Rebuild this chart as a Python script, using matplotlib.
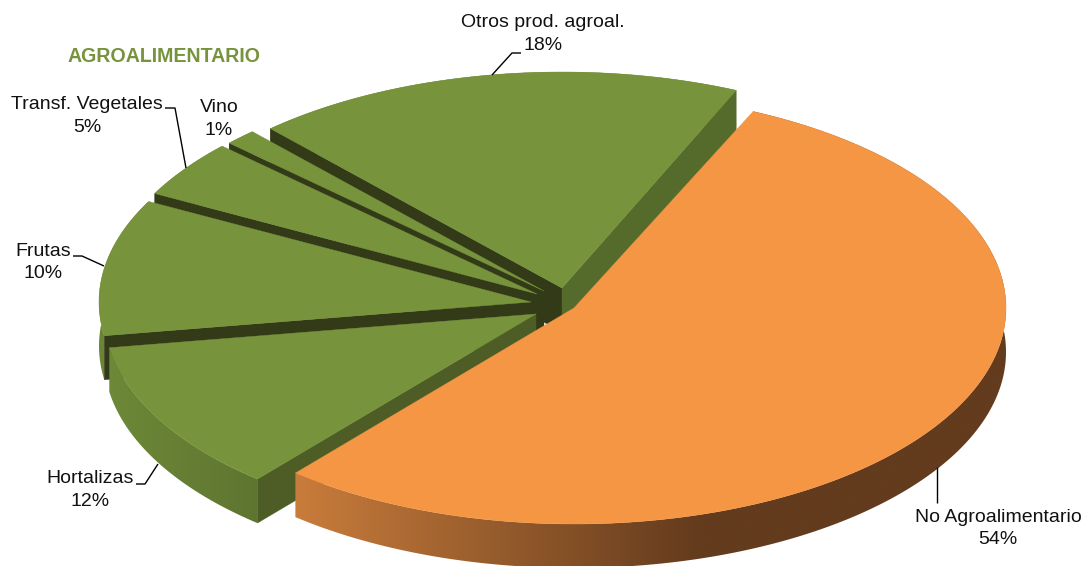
#!/usr/bin/env python3
"""Exploded 3D-looking pie of agrifood / non agrifood shares."""

import numpy as np
import matplotlib
matplotlib.use("Agg")
import matplotlib.pyplot as plt
from matplotlib.colors import to_rgb
from matplotlib.patches import Polygon

categories = ["No Agroalimentario", "Hortalizas", "Frutas", "Transf. Vegetales", "Vino", "Otros prod. agroal."]
# slice sizes as measured on the picture, printed percentages as written on it
shares = [54.35, 11.35, 10.2, 4.3, 1.2, 18.4]
percent_labels = [54, 12, 10, 5, 1, 18]

plt.rcParams["font.family"] = ["Liberation Sans", "DejaVu Sans"]

# projected ellipse and extrusion, in pixels
RX, RY = 432, 216
DEPTH = 44
START = 24.5

GREEN = "#77933C"
DARK = "#333A18"

# apex of every exploded slice
apex = [(574, 308), (536, 314), (531, 302), (537, 294), (544, 291), (562, 288)]
top_colors = ["#F59645", GREEN, GREEN, GREEN, GREEN, GREEN]
rim_stops = [
    [(295, "#C97C3B"), (700, "#633B1D"), (1010, "#633B1D")],
    [(105, "#6E8938"), (257, "#5E7530")],
    [(95, "#6B8534"), (160, "#6B8534")],
    [(150, "#67812F"), (240, "#67812F")],
    [(225, "#67812F"), (260, "#67812F")],
    [(270, "#67812F"), (740, "#67812F")],
]
# visible straight wall of a slice: (which edge, colour)
walls = [
    [],
    [("start", "#4D5D25")],
    [("start", DARK)],
    [("start", DARK)],
    [("start", DARK)],
    [("start", DARK), ("end", "#556B2C")],
]


def arc_points(center, a0, a1, n=200):
    t = np.radians(np.linspace(a0, a1, n))
    return np.column_stack([center[0] + RX * np.sin(t), center[1] - RY * np.cos(t)])


def gradient_row(x, stops):
    xs = [s[0] for s in stops]
    cols = np.array([to_rgb(s[1]) for s in stops])
    return np.column_stack([np.interp(x, xs, cols[:, i]) for i in range(3)])[np.newaxis, :, :]


def draw_slice(ax, idx, a0, a1, z):
    center = apex[idx]
    arc = arc_points(center, a0, a1, 260)
    low = arc + [0, DEPTH]

    # outer rim, filled with a horizontal gradient
    rim = Polygon(np.vstack([arc, low[::-1]]), closed=True, fc="none", ec="none", zorder=z)
    ax.add_patch(rim)
    x0, x1 = arc[:, 0].min(), arc[:, 0].max()
    y0, y1 = arc[:, 1].min(), low[:, 1].max()
    grad = gradient_row(np.linspace(x0, x1, 256), rim_stops[idx])
    im = ax.imshow(grad, extent=(x0, x1, y1, y0), aspect="auto", interpolation="bilinear", zorder=z)
    im.set_clip_path(rim)

    # straight walls
    for edge, col in walls[idx]:
        p = arc[-1] if edge == "end" else arc[0]
        quad = [center, p, p + [0, DEPTH], (center[0], center[1] + DEPTH)]
        ax.add_patch(Polygon(quad, closed=True, fc=col, ec=col, lw=0.3, zorder=z + 0.1))

    top = np.vstack([[center], arc])
    ax.add_patch(Polygon(top, closed=True, fc=top_colors[idx], ec=top_colors[idx], lw=0.3, zorder=z + 0.2))


fig = plt.figure(figsize=(10.84, 5.66), dpi=100)
ax = fig.add_axes([0, 0, 1, 1])
ax.set_axis_off()

edges = START + np.concatenate([[0], np.cumsum(shares)]) * 3.6

# back slices first, orange last
for z, idx in enumerate([5, 4, 3, 2, 1, 0]):
    draw_slice(ax, idx, edges[idx], edges[idx + 1], z + 1)

ax.set_xlim(0, 1084)
ax.set_ylim(566, 0)

# leader lines
leaders = [
    [(937, 467), (937, 503)],
    [(136, 484), (145, 484), (158, 464)],
    [(73, 256), (82, 256), (104, 266)],
    [(165, 108), (175, 108), (186, 168)],
    [(492, 75), (512, 53), (521, 53)],
]
for pts in leaders:
    xs, ys = zip(*pts)
    ax.plot(xs, ys, color="black", lw=1.0, solid_capstyle="butt", zorder=10)

# labels
label_pos = [(998, 528.5), (90, 490), (43, 262.5), (87, 116), (219, 119), (543, 34)]
for name, pct, (x, y) in zip(categories, percent_labels, label_pos):
    ax.text(x, y, f"{name}\n{pct}%", ha="center", va="center",
            fontsize=14, color="#111111", linespacing=1.4, zorder=11)

ax.text(164, 56.5, "AGROALIMENTARIO", ha="center", va="center", fontsize=14.1,
        fontweight="bold", color=GREEN, zorder=11)

fig.savefig("out.png", dpi=100)
